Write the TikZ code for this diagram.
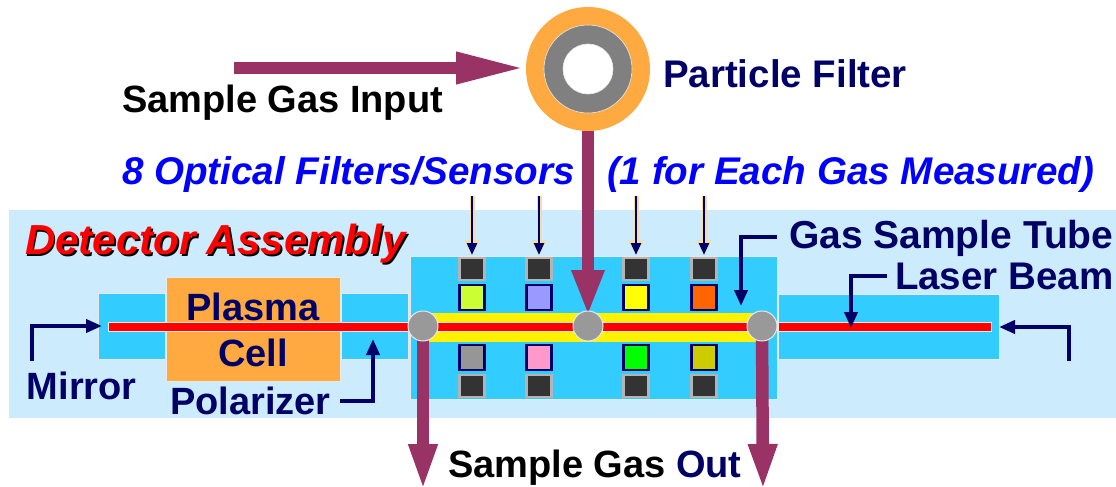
\documentclass[tikz,border=0pt]{standalone}
\usepackage{fontspec}
\setmainfont{Liberation Sans}
\usetikzlibrary{arrows.meta,calc}
\definecolor{lightbg}{HTML}{CCEBFD}
\definecolor{blockblue}{HTML}{33CCFF}
\definecolor{cellorange}{HTML}{FFAA40}
\definecolor{gaspurple}{HTML}{993366}
\definecolor{navy}{HTML}{000066}
\definecolor{ringgrey}{HTML}{808080}
\definecolor{portgrey}{HTML}{999999}
\definecolor{halo}{HTML}{E8E8E8}
\definecolor{tanhalo}{HTML}{F5DDA8}
\definecolor{sensdark}{HTML}{333333}
\definecolor{sensframe}{HTML}{B4B4B4}
\newcommand{\rectnode}[6]{%
  \node[#6,inner sep=0pt,outer sep=0pt,minimum width={((#4)-(#2))*1pt},minimum height={((#5)-(#3))*1pt}]
    (#1) at ({((#2)+(#4))/2},{((#3)+(#5))/2}) {};}
\tikzset{
  x=1pt,y=-1pt,
  panel/.style={fill=lightbg},
  block/.style={fill=blockblue,draw=halo,line width=.6pt},
  cell/.style={fill=cellorange,draw=halo,line width=.6pt},
  beam/.style={fill=red,draw=halo,line width=.6pt},
  tube/.style={fill=yellow},
  port/.style={circle,fill=portgrey,draw=halo,line width=1pt,minimum size=30pt,inner sep=0pt},
  filterbox/.style={draw=navy,line width=2.6pt},
  sensorbox/.style={fill=sensdark,draw=sensframe,line width=2.6pt},
  gasflow/.style={draw=gaspurple,line width=12.5pt,-{Triangle[length=46pt,width=30pt,fill=gaspurple]}},
  gasin/.style={draw=gaspurple,line width=12.5pt,-{Triangle[length=70pt,width=29pt,fill=gaspurple]}},
  gasout/.style={draw=gaspurple,line width=12.5pt,-{Triangle[length=47pt,width=26pt,fill=gaspurple]}},
  callout/.style={draw=navy,line width=3.8pt,-{Triangle[length=16pt,width=13pt,fill=navy]}},
  lightin/.style={draw=navy,line width=2.6pt,-{Triangle[length=12pt,width=10pt,fill=navy]}},
  lighthalo/.style={draw=tanhalo,line width=5pt,-{Triangle[length=15pt,width=14pt,fill=tanhalo]}},
  lab/.style={font=\fontsize{#1}{#1}\selectfont\bfseries,inner sep=0pt,outer sep=0pt,anchor=base west},
  lab/.default=38pt,
}
\begin{document}
\begin{tikzpicture}[x=1pt,y=-1pt]
\useasboundingbox (0,0) rectangle (1116,487);
\rectnode{panel}{9}{210}{1116}{418}{panel}
% blocks
\rectnode{mirrorL}{98}{293}{165}{359}{block}
\rectnode{polar}{341}{293}{408}{359}{block}
\rectnode{center}{410}{256}{777}{399}{block}
\rectnode{mirrorR}{778}{294}{999}{359}{block}
\rectnode{plasma}{166}{277}{340}{381}{cell}
% tube and beams
\rectnode{tubeN}{423}{313}{762}{342}{tube}
\rectnode{beamL}{108}{322}{408}{331}{beam}
\rectnode{beamM}{430}{322}{756}{331}{beam}
\rectnode{beamR}{778}{322}{991}{331}{beam}
% sensor columns
\foreach \n/\x/\ct/\cb in {1/472/CCFF33/969696,2/539/9999FF/FF99CC,3/636/FFFF00/00FF00,4/704/FF6600/CCCC00}{
  \definecolor{ctop}{HTML}{\ct}\definecolor{cbot}{HTML}{\cb}
  \rectnode{st\n}{\x-12.5}{258}{\x+12.5}{280}{sensorbox}
  \rectnode{ft\n}{\x-12.5}{285}{\x+12.5}{310}{filterbox,fill=ctop}
  \rectnode{fb\n}{\x-12.5}{345}{\x+12.5}{370}{filterbox,fill=cbot}
  \rectnode{sb\n}{\x-12.5}{375}{\x+12.5}{397}{sensorbox}
  \coordinate (in\n) at (\x,196);
  \coordinate (inend\n) at (\x,255);
  \draw[lighthalo] (in\n) -- (inend\n);
  \draw[lightin] (in\n) -- (inend\n);
}
% filter
\node[circle,fill=cellorange,minimum size=124pt,inner sep=0pt,outer sep=0pt] (filter) at (588,69) {};
\node[circle,fill=ringgrey,draw=halo,line width=.6pt,minimum size=88pt,inner sep=0pt] (ring) at (588,69) {};
\node[circle,fill=white,draw=halo,line width=.6pt,minimum size=50pt,inner sep=0pt] (hole) at (588,69) {};
% ports positions
\coordinate (pL) at (423,326);
\coordinate (pM) at (588,326);
\coordinate (pR) at (762,326);
\coordinate (gasinS) at (234,68);
\coordinate (gastip) at (526,68);
\coordinate (outL) at (423,491);
\coordinate (outR) at (763,491);
\coordinate (midtip) at (588,316);
% gas flow
\draw[gasin] (gasinS) -- (gastip);
\draw[gasflow] (filter.south) -- (midtip);
\draw[gasout] (pL) -- (outL);
\draw[gasout] (pR) -- (outR);
\node[port] (portL) at (pL) {};
\node[port] (portM) at (pM) {};
\node[port] (portR) at (pR) {};
% callouts
\coordinate (cTube) at (777,237);
\coordinate (cTubeTip) at (741,306);
\draw[callout] (cTube) -| (cTubeTip);
\coordinate (cBeam) at (887,276);
\coordinate (cBeamTip) at (851,328);
\draw[callout] (cBeam) -| (cBeamTip);
\coordinate (cMR) at (1069,361);
\coordinate (cMRTip) at (999,327);
\draw[callout] (cMR) |- (cMRTip);
\coordinate (cML) at (32,361);
\coordinate (cMLTip) at (102,326);
\draw[callout] (cML) |- (cMLTip);
\coordinate (cPol) at (340,401);
\coordinate (cPolTip) at (373,339);
\draw[callout] (cPol) -| (cPolTip);
% labels
\node[lab,text=black] (tInput) at (122,112) {Sample Gas Input};
\node[lab=38.5pt,text=navy] (tFilter) at (663,88) {Particle Filter};
\node[lab,text=blue,font=\fontsize{38.6pt}{38pt}\selectfont\bfseries\itshape] (tOpt) at (122,184) {8 Optical Filters/Sensors};
\node[lab,text=blue,font=\fontsize{38.6pt}{38pt}\selectfont\bfseries\itshape] (tEach) at (607,184) {(1 for Each Gas Measured)};
\node[lab,text=black,font=\fontsize{42pt}{42pt}\selectfont\bfseries\itshape] (tDetS) at (27,256) {Detector Assembly};
\node[lab,text=red,font=\fontsize{42pt}{42pt}\selectfont\bfseries\itshape] (tDet) at (25,254) {Detector Assembly};
\node[lab,text=navy,anchor=base] (tPlasma) at (253,320) {Plasma};
\node[lab,text=navy,anchor=base] (tCell) at (253,366) {Cell};
\node[lab,text=navy] (tMirror) at (27,399) {Mirror};
\node[lab,text=navy] (tPol) at (170,414) {Polarizer};
\node[lab=39pt,text=navy] (tTube) at (789,248) {Gas Sample Tube};
\node[lab=38.5pt,text=navy] (tBeam) at (895,289) {Laser Beam};
\node[lab,text=black] (tOut) at (448,477) {Sample Gas \textcolor{navy}{Out}};
\end{tikzpicture}
\end{document}
